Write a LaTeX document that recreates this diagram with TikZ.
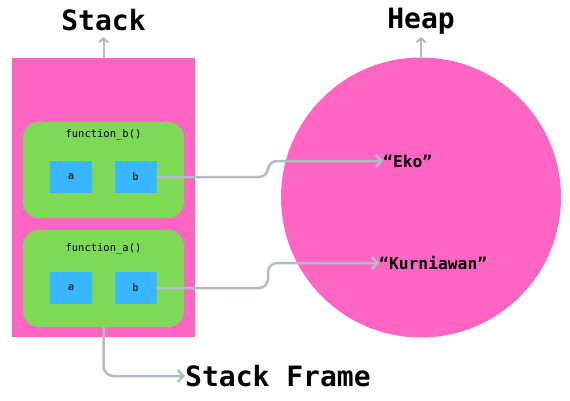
\documentclass[tikz,border=0pt]{standalone}
\usepackage{fontspec}
\newfontfamily\mono{DejaVu Sans Mono}
\usetikzlibrary{arrows.meta}
\definecolor{pinkc}{HTML}{FF66C4}
\definecolor{greenc}{HTML}{7ED957}
\definecolor{bluec}{HTML}{38B6FF}
\definecolor{arrc}{HTML}{B3BCC5}
\tikzset{
  pinkbox/.style={fill=pinkc, inner sep=0pt},
  framebox/.style={fill=greenc, rounded corners=16pt, inner sep=0pt, minimum width=161pt, minimum height=96pt},
  varbox/.style={fill=bluec, inner sep=0pt, minimum width=42pt, minimum height=32pt, font=\mono\bfseries\fontsize{10.5pt}{12pt}\selectfont, text=black!80},
  fnlabel/.style={font=\mono\fontsize{10.5pt}{12pt}\selectfont, inner sep=0pt},
  biglabel/.style={font=\mono\bfseries\fontsize{28pt}{30pt}\selectfont, inner sep=0pt},
  vallabel/.style={font=\mono\bfseries\fontsize{16.3pt}{18pt}\selectfont, inner sep=0pt, anchor=west},
  arr/.style={draw=arrc, line width=2.5pt, -{Straight Barb[length=5.5pt,width=12pt]}},
}
\begin{document}
\begin{tikzpicture}[x=1pt,y=-1pt]
\useasboundingbox (0,0) rectangle (570,401);
% stack
\node[pinkbox, minimum width=183pt, minimum height=279pt] (stack) at (103.5,197.5) {};
\node[biglabel] (stacklbl) at (103.5,20) {Stack};
\coordinate (stackup) at (103.5,37);
\draw[arr, -{Straight Barb[length=4pt,width=9pt]}, line width=2pt] (stack.north) -- (stackup);
% frames
\node[framebox] (fb) at (103.5,170) {};
\node[fnlabel] (fbl) at (103.5,135) {function\_b()};
\node[varbox] (a1) at (71,177) {a};
\node[varbox] (b1) at (135.5,177) {b};
\node[framebox, minimum height=97pt] (fa) at (103.5,278.5) {};
\node[fnlabel] (fal) at (103.5,249) {function\_a()};
\node[varbox] (a2) at (71,288) {a};
\node[varbox] (b2) at (135.5,288) {b};
% heap
\node[circle, fill=pinkc, minimum size=280pt, inner sep=0pt] (heap) at (421,197.5) {};
\node[biglabel] (heaplbl) at (421,21) {Heap};
\coordinate (heapup) at (421,37);
\draw[arr, -{Straight Barb[length=4pt,width=9pt]}, line width=2pt] (heap.north) -- (heapup);
% values
\node[vallabel] (eko) at (383,161) {“Eko”};
\node[vallabel] (kur) at (379,263) {“Kurniawan”};
\draw[arr, rounded corners=9pt] (b1.east) -- (268,177) |- (eko.west);
\draw[arr, rounded corners=9pt] (b2.east) -- (268,288) |- (kur.west);
% stack frame
\node[biglabel, anchor=west] (sf) at (185,376) {Stack Frame};
\draw[arr, rounded corners=10pt] (fa.south) |- (sf.west);
\end{tikzpicture}
\end{document}
